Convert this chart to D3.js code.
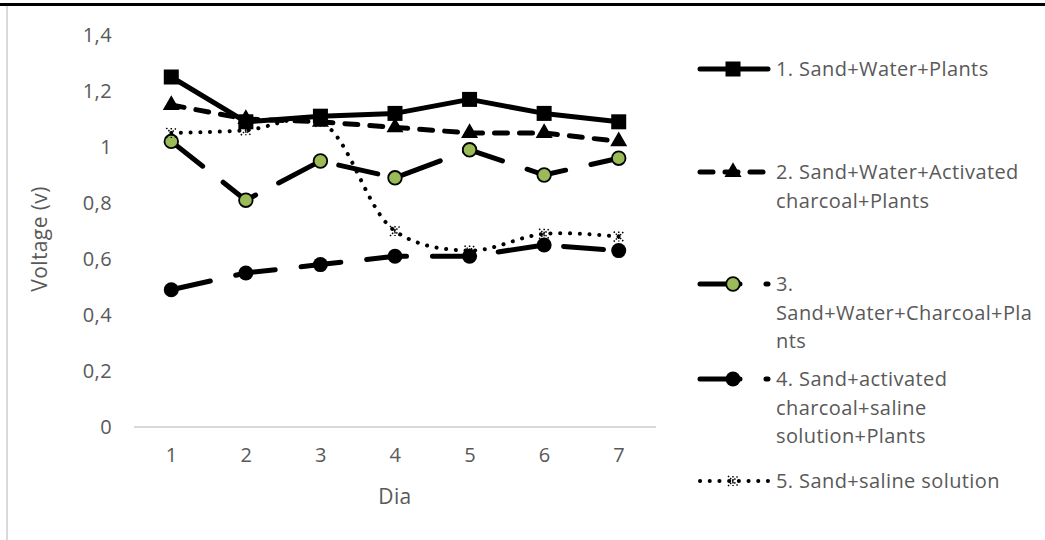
<!DOCTYPE html>
<html>
<head>
<meta charset="utf-8">
<script src="https://cdn.jsdelivr.net/npm/d3@7/dist/d3.min.js"></script>
<style>
  html, body { margin: 0; padding: 0; background: #fff; }
  svg { display: block; }
  text { font-family: "Open Sans", "Noto Sans", sans-serif; fill: #595959; letter-spacing: 0.4px; }
</style>
</head>
<body>
<svg id="chart" width="1045" height="540"></svg>
<script>
// Days of measurement
const days = [1, 2, 3, 4, 5, 6, 7];
const yTicks = [0, 0.2, 0.4, 0.6, 0.8, 1, 1.2, 1.4];
const yTickLabels = ["0", "0,2", "0,4", "0,6", "0,8", "1", "1,2", "1,4"];

// Voltage (V) per day for each cell
const sandWaterPlants = [1.25, 1.09, 1.11, 1.12, 1.17, 1.12, 1.09];
const sandWaterActCharcoalPlants = [1.15, 1.10, 1.09, 1.07, 1.05, 1.05, 1.02];
const sandWaterCharcoalPlants = [1.02, 0.81, 0.95, 0.89, 0.99, 0.90, 0.96];
const sandActCharcoalSalinePlants = [0.49, 0.55, 0.58, 0.61, 0.61, 0.65, 0.63];
const sandSaline = [1.05, 1.06, 1.09, 0.70, 0.63, 0.69, 0.68];

const seriesNames = [
  ["1. Sand+Water+Plants"],
  ["2. Sand+Water+Activated", "charcoal+Plants"],
  ["3.", "Sand+Water+Charcoal+Pla", "nts"],
  ["4. Sand+activated", "charcoal+saline", "solution+Plants"],
  ["5. Sand+saline solution"]
];

const series = [
  { name: seriesNames[0], values: sandWaterPlants, dash: null, width: 5, marker: "square", curve: d3.curveLinear },
  { name: seriesNames[1], values: sandWaterActCharcoalPlants, dash: "13,12", width: 5, marker: "triangle", curve: d3.curveLinear },
  { name: seriesNames[2], values: sandWaterCharcoalPlants, dash: "40,26", width: 5, marker: "greenCircle", curve: d3.curveLinear },
  { name: seriesNames[3], values: sandActCharcoalSalinePlants, dash: "40,26", width: 5, marker: "circle", curve: d3.curveLinear },
  { name: seriesNames[4], values: sandSaline, dash: "0.1,9.6", width: 4, marker: "star", curve: d3.curveCatmullRom }
];

const svg = d3.select("#chart");

// Chart frame: dark rule on top, light rule on the left
svg.append("line").attr("x1", 0).attr("x2", 1045).attr("y1", 4.5).attr("y2", 4.5)
  .attr("stroke", "#000").attr("stroke-width", 3);
svg.append("line").attr("x1", 7).attr("x2", 7).attr("y1", 6).attr("y2", 540)
  .attr("stroke", "#d9d9d9").attr("stroke-width", 2);

const x = d3.scaleLinear().domain([0.5, 7.5]).range([134, 656]);
const y = d3.scaleLinear().domain([0, 1.4]).range([427, 35]);

// Y axis labels (no axis line)
const yAxis = d3.axisLeft(y).tickValues(yTicks)
  .tickFormat((d, i) => yTickLabels[i]).tickSize(0).tickPadding(0);
const gy = svg.append("g").attr("transform", "translate(112,0)").call(yAxis);
gy.select(".domain").remove();
gy.selectAll("text").style("font-size", "20px").attr("fill", "#595959")
  .style("font-family", "'Open Sans', sans-serif");

// X axis: light baseline with day labels
const xAxis = d3.axisBottom(x).tickValues(days).tickFormat(d3.format("d")).tickSize(0).tickPadding(21);
const gx = svg.append("g").attr("transform", "translate(0,427)").call(xAxis);
gx.select(".domain").attr("stroke", "#d9d9d9").attr("stroke-width", 2).attr("d", "M134,0H656");
gx.selectAll("text").style("font-size", "20px").attr("fill", "#595959")
  .style("font-family", "'Open Sans', sans-serif");

// Axis titles
svg.append("text").attr("transform", "translate(47,239) rotate(-90)")
  .attr("text-anchor", "middle").style("font-size", "21px").text("Voltage (v)");
svg.append("text").attr("x", 395).attr("y", 504)
  .attr("text-anchor", "middle").style("font-size", "21px").text("Dia");

function drawMarker(g, type, cx, cy) {
  if (type === "square") {
    g.append("rect").attr("x", cx - 7.5).attr("y", cy - 7.5).attr("width", 15).attr("height", 15)
      .attr("fill", "#000");
  } else if (type === "triangle") {
    g.append("path").attr("d", d3.symbol(d3.symbolTriangle, 125)()).attr("transform", `translate(${cx},${cy})`)
      .attr("fill", "#000");
  } else if (type === "greenCircle") {
    g.append("circle").attr("cx", cx).attr("cy", cy).attr("r", 6.8)
      .attr("fill", "#9bbb59").attr("stroke", "#000").attr("stroke-width", 1.8);
  } else if (type === "circle") {
    g.append("circle").attr("cx", cx).attr("cy", cy).attr("r", 7.5).attr("fill", "#000");
  } else if (type === "star") {
    const s = 5;
    g.append("path")
      .attr("d", `M${cx - s},${cy - s}L${cx + s},${cy + s}M${cx - s},${cy + s}L${cx + s},${cy - s}M${cx},${cy - s}L${cx},${cy + s}`)
      .attr("fill", "none").attr("stroke", "#000").attr("stroke-width", 1.5).attr("stroke-dasharray", "1.5,1.5");
  }
}

const plot = svg.append("g");
series.forEach(s => {
  const line = d3.line().x((d, i) => x(days[i])).y(d => y(d)).curve(s.curve);
  plot.append("path").datum(s.values).attr("d", line)
    .attr("fill", "none").attr("stroke", "#000").attr("stroke-width", s.width)
    .attr("stroke-linecap", "round").attr("stroke-linejoin", "round")
    .attr("stroke-dasharray", s.dash);
});
series.forEach(s => {
  const g = plot.append("g");
  s.values.forEach((v, i) => drawMarker(g, s.marker, x(days[i]), y(v)));
});

// Legend
const legendRows = [69, 172, 284, 379, 481];
const lineH = 28.5;
series.forEach((s, k) => {
  const ly = legendRows[k];
  const g = svg.append("g");
  g.append("line").attr("x1", 700).attr("x2", 768).attr("y1", ly).attr("y2", ly)
    .attr("stroke", "#000").attr("stroke-width", s.width)
    .attr("stroke-linecap", "round").attr("stroke-dasharray", s.dash);
  drawMarker(g, s.marker, 733, ly);
  const t = g.append("text").attr("x", 776).attr("y", ly).style("font-size", "20px");
  s.name.forEach((ln, j) => {
    t.append("tspan").attr("x", 776).attr("y", ly + 7 + j * lineH).text(ln);
  });
});
</script>
</body>
</html>
